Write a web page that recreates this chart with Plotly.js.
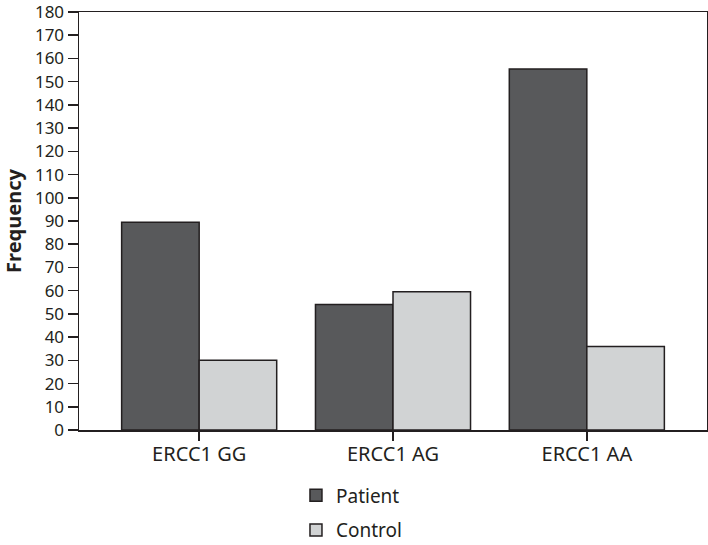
<!DOCTYPE html>
<html><head><meta charset="utf-8">
<script src="https://cdn.plot.ly/plotly-3.0.1.min.js"></script>
<style>html,body{margin:0;padding:0;background:#fff}#chart{width:708px;height:545px}</style>
</head><body><div id="chart"></div>
<script>
const categories = ["ERCC1 GG", "ERCC1 AG", "ERCC1 AA"];
const patient = [89.5, 54, 155.5];
const control = [30, 59.5, 36];
const seriesNames = ["Patient", "Control"];
const yTicks = [0,10,20,30,40,50,60,70,80,90,100,110,120,130,140,150,160,170,180];

const lineCol = '#231f20';
const font = {family: 'Noto Sans, Open Sans, sans-serif', color: '#231f20'};
const traces = [
  {type:'bar', name: seriesNames[0], x: categories, y: patient, legendgroup:'a',
   marker:{color:'#58595b', line:{color:lineCol, width:1.5}}},
  {type:'bar', name: seriesNames[1], x: categories, y: control, legendgroup:'b',
   marker:{color:'#d1d3d4', line:{color:lineCol, width:1.5}}}
];
const layout = {
  width:708, height:545,
  margin:{l:79, r:1, t:12, b:115},
  paper_bgcolor:'#fff', plot_bgcolor:'#fff',
  barmode:'group', bargap:0.2, bargroupgap:0,
  font: font,
  xaxis:{range:[-0.62, 2.62], showline:true, mirror:true, linecolor:lineCol, linewidth:1.5,
         ticks:'outside', ticklen:9, tickcolor:lineCol, tickwidth:1.5, ticklabelstandoff:-4,
         tickfont:{size:20, family:font.family, color:'#231f20'}, showgrid:false, zeroline:false, automargin:false},
  yaxis:{range:[0,180], tickvals:yTicks, ticktext:yTicks.map(String), showline:true, mirror:true,
         linecolor:lineCol, linewidth:1.5, ticks:'outside', ticklen:10, tickcolor:lineCol, tickwidth:1.5,
         ticklabeloverflow:'allow', automargin:false,
         tickfont:{size:17, family:font.family, color:'#231f20'}, showgrid:false, zeroline:false,
         title:{text:'<b>Frequency</b>', font:{size:20, family:font.family, color:'#231f20'}, standoff:8}},
  showlegend:true,
  legend:{orientation:'v', x:0.3455, xanchor:'left', yref:'container', y:0.126, yanchor:'top', traceorder:'grouped', tracegroupgap:7,
          font:{size:19, family:font.family, color:'#231f20'}, bgcolor:'rgba(0,0,0,0)'}
};
Plotly.newPlot('chart', traces, layout, {displayModeBar:false, staticPlot:true});
</script></body></html>
